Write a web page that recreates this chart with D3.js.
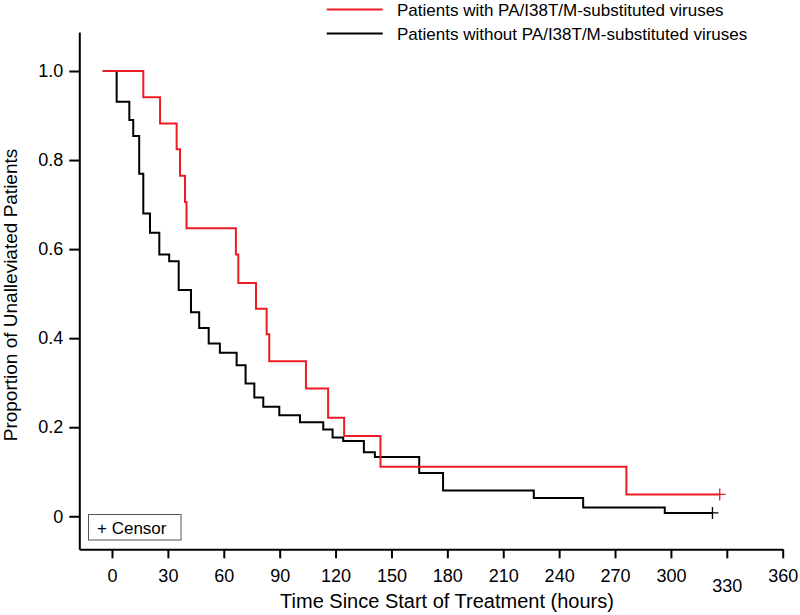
<!DOCTYPE html>
<html><head><meta charset="utf-8">
<script src="https://cdn.jsdelivr.net/npm/d3@7"></script>
<style>body{margin:0;background:#fff}svg{display:block;font-family:"Liberation Sans",Arial,sans-serif}</style>
</head><body><svg id="c" width="800" height="615"></svg>
<script>
// Data
const redTimes  = [-5, 16.8, 25.8, 34.7, 36.5, 39.2, 40, 66.5, 67.8, 77.3, 83, 84.4, 104.1, 116, 124.6, 144.1, 276.1, 326.2];
const redProp   = [1.0, 0.941, 0.882, 0.824, 0.765, 0.706, 0.647, 0.588, 0.524, 0.466, 0.409, 0.348, 0.287, 0.221, 0.180, 0.111, 0.049, 0.049];
const blackTimes = [-5, 2.5, 9.3, 11.4, 14.6, 16.8, 20.4, 25.4, 30.7, 35.8, 42.4, 46.8, 51.9, 57.9, 66.9, 71.7, 76.4, 81.2, 89.8, 100.9, 113.4, 118.4, 124.1, 135.2, 141.1, 164.9, 177.7, 226.4, 252.9, 296.7, 322.3];
const blackProp  = [1.0, 0.931, 0.890, 0.854, 0.769, 0.680, 0.637, 0.588, 0.573, 0.508, 0.458, 0.423, 0.388, 0.367, 0.339, 0.298, 0.267, 0.246, 0.227, 0.211, 0.195, 0.177, 0.169, 0.144, 0.133, 0.097, 0.058, 0.041, 0.0195, 0.0075, 0.0075];
const censorRed = [[326.2, 0.049]];
const censorBlack = [[322.3, 0.0075]];
const xTicks = [0, 30, 60, 90, 120, 150, 180, 210, 240, 270, 300, 330, 360];
const yTicks = [0, 0.2, 0.4, 0.6, 0.8, 1.0];
const seriesNames = ["Patients with PA/I38T/M-substituted viruses", "Patients without PA/I38T/M-substituted viruses"];
const colors = ["#ec1c24", "#000000"];

const svg = d3.select("#c");
const x = d3.scaleLinear().domain([-17.55, 360]).range([79.3, 782.7]);
const y = d3.scaleLinear().domain([-0.0742, 1.0876]).range([549.3, 32]);

// axes
const xa = svg.append("g").attr("transform", "translate(0,549.3)")
  .call(d3.axisBottom(x).tickValues(xTicks).tickSize(9).tickSizeOuter(0).tickPadding(11).tickFormat(d3.format("d")));
const ya = svg.append("g").attr("transform", "translate(79.3,0)")
  .call(d3.axisLeft(y).tickValues(yTicks).tickSize(10).tickSizeOuter(0).tickPadding(6).tickFormat(d => d === 0 ? "0" : d.toFixed(1)));
[xa, ya].forEach(a => {
  a.select(".domain").attr("stroke", "#000").attr("stroke-width", 2);
  a.selectAll(".tick line").attr("stroke", "#000").attr("stroke-width", 2);
  a.selectAll(".tick text").attr("font-size", 18).attr("fill", "#000").attr("font-family", "Liberation Sans, Arial, sans-serif");
});
xa.selectAll(".tick text").filter(d => d === 330).attr("dy", "1.25em");

// axis titles
svg.append("text").attr("x", 447).attr("y", 608).attr("text-anchor", "middle").attr("font-size", 20).text("Time Since Start of Treatment (hours)");
svg.append("text").attr("transform", "translate(17,295) rotate(-90)").attr("text-anchor", "middle").attr("font-size", 19).text("Proportion of Unalleviated Patients");

// curves
const line = d3.line().x(d => x(d[0])).y(d => y(d[1])).curve(d3.curveStepAfter);
const blackData = blackTimes.map((t, i) => [t, blackProp[i]]);
const redData = redTimes.map((t, i) => [t, redProp[i]]);
svg.append("path").datum(blackData).attr("d", line).attr("fill", "none").attr("stroke", colors[1]).attr("stroke-width", 2);
svg.append("path").datum(redData).attr("d", line).attr("fill", "none").attr("stroke", colors[0]).attr("stroke-width", 2);

// censor marks
function plus(data, col) {
  svg.append("g").selectAll("path").data(data).join("path")
    .attr("d", d => `M${x(d[0]) - 6},${y(d[1])}h12M${x(d[0])},${y(d[1]) - 6}v12`)
    .attr("stroke", col).attr("stroke-width", 1.3).attr("fill", "none");
}
plus(censorBlack, colors[1]);
plus(censorRed, colors[0]);

// legend
const lg = svg.append("g");
seriesNames.forEach((n, i) => {
  const yy = 9.5 + i * 24;
  lg.append("line").attr("x1", 326.7).attr("x2", 382.7).attr("y1", yy).attr("y2", yy).attr("stroke", colors[i]).attr("stroke-width", 2);
  lg.append("text").attr("x", 397).attr("y", yy + 6).attr("font-size", 17).text(n);
});

// censor box
svg.append("rect").attr("x", 88.5).attr("y", 514.5).attr("width", 92.5).attr("height", 25.5).attr("fill", "#fff").attr("stroke", "#555").attr("stroke-width", 1);
svg.append("text").attr("x", 97).attr("y", 533.5).attr("font-size", 17).text("+ Censor");
</script></body></html>
